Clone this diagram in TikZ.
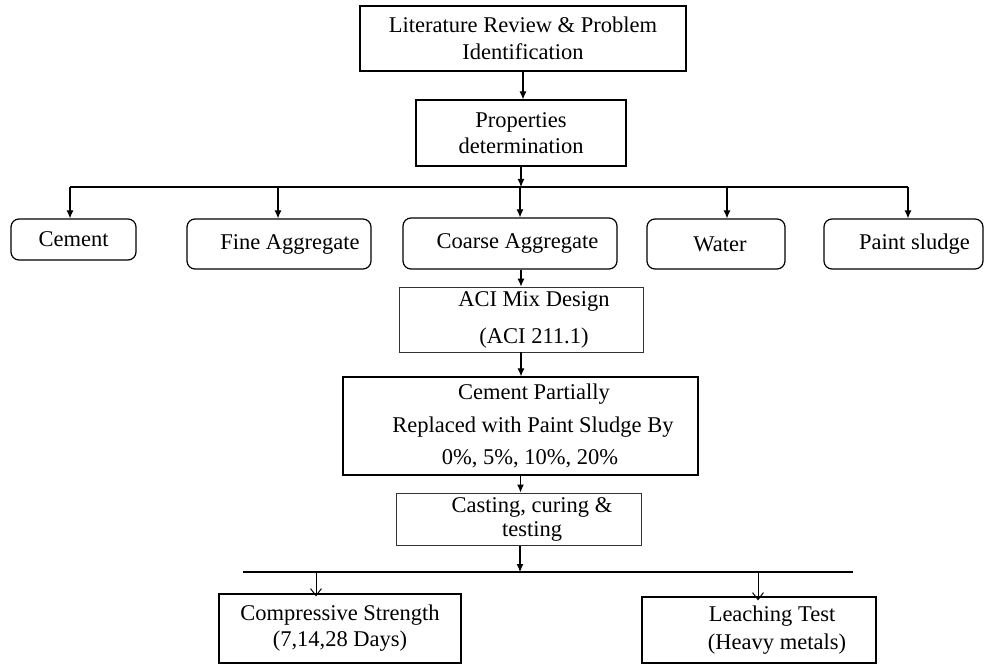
\documentclass[tikz,border=0pt]{standalone}
\usepackage{fontspec}
\setmainfont{Liberation Serif}
\usetikzlibrary{arrows.meta}
\begin{document}
\begin{tikzpicture}[x=1pt,y=-1pt,
  every node/.style={font=\fontsize{22.5}{26}\selectfont, inner sep=0pt, align=center, text=black},
  sqbox/.style={draw=black, line width=1.2pt, rectangle},
  thinbox/.style={draw=black!80, line width=0.8pt, rectangle},
  rndbox/.style={draw=black, line width=1.2pt, rounded corners=8pt},
  farrow/.style={line width=1.1pt, -{Latex[length=8pt,width=7pt]}},
  plain/.style={line width=1.1pt},
  oarrow/.style={line width=1pt, -{Straight Barb[length=7pt,width=11pt]}},
  thinline/.style={line width=1.1pt}
]
\useasboundingbox (0,0) rectangle (986,666);

% top boxes
\node[sqbox, minimum width=326pt, minimum height=65pt] (lit) at (523,38.5)
  {Literature Review \& Problem\\[1pt]Identification};
\node[sqbox, minimum width=210pt, minimum height=66pt] (prop) at (521,133)
  {Properties\\[0pt]determination};

% materials row
\node[rndbox, minimum width=125pt, minimum height=41pt] (cem) at (73.5,239.5) {Cement};
\node[rndbox, minimum width=184pt, minimum height=50pt] (fine) at (279,244) {\hspace*{22pt}Fine Aggregate};
\node[rndbox, minimum width=214pt, minimum height=51pt] (coarse) at (510,243.5) {\hspace*{15pt}Coarse Aggregate};
\node[rndbox, minimum width=138pt, minimum height=50pt] (water) at (716,244) {\hspace*{8pt}Water};
\node[rndbox, minimum width=159pt, minimum height=50pt] (paint) at (903.5,244) {\hspace*{22pt}Paint sludge};

% process boxes
\node[thinbox, minimum width=244pt, minimum height=65pt] (aci) at (521,319.5)
  {\hspace*{26pt}ACI Mix Design\\[11pt]\hspace*{26pt}(ACI 211.1)};
\node[sqbox, minimum width=355pt, minimum height=98pt] (cp) at (520.5,426)
  {\hspace*{27pt}Cement Partially\\[7pt]\hspace*{25pt}Replaced with Paint Sludge By\\[6pt]\hspace*{19pt}0\%, 5\%, 10\%, 20\%};
\node[thinbox, line width=1pt, minimum width=245pt, minimum height=52pt] (cast) at (518.5,519)
  {\hspace*{27pt}Casting, curing \&\\[-2pt]\hspace*{27pt}testing};

% result boxes
\node[sqbox, minimum width=242pt, minimum height=69pt] (comp) at (340,628.5)
  {Compressive Strength\\[0pt](7,14,28 Days)};
\node[sqbox, minimum width=234pt, minimum height=66pt] (leach) at (759,630)
  {\hspace*{26pt}Leaching Test\\[2pt]\hspace*{36pt}(Heavy metals)};

% coordinates of the branching lines
\coordinate (busL) at (70,187);
\coordinate (busR) at (908,187);
\coordinate (busM) at (521,187);
\coordinate (bus2L) at (243,572);
\coordinate (bus2R) at (853,572);
\coordinate (bus2M) at (520,572);

% connectors
\draw[farrow] (lit.south) -- (lit.south |- prop.north);
\draw[farrow] (prop.south) -- (busM);
\draw[plain] (busL) -- (busR);
\draw[farrow] (busL) -- (cem.north -| busL);
\draw[farrow] (278,187) -- (fine.north -| 278,0);
\draw[farrow] (520,187) -- (coarse.north -| 520,0);
\draw[farrow] (727,187) -- (water.north -| 727,0);
\draw[farrow] (busR) -- (paint.north -| busR);

\draw[farrow] (coarse.south -| aci.north) -- (aci.north);
\draw[farrow] (aci.south) -- (aci.south |- cp.north);
\draw[farrow] (cp.south) -- (cp.south |- cast.north);
\draw[farrow] (cast.south -| bus2M) -- (bus2M);

\draw[thinline] (bus2L) -- (bus2R);
\draw[oarrow] (316,572) -- ([yshift=-3pt]comp.north -| 316,0);
\draw[oarrow] (758,572) -- ([yshift=-4pt]leach.north -| 758,0);
\end{tikzpicture}
\end{document}
